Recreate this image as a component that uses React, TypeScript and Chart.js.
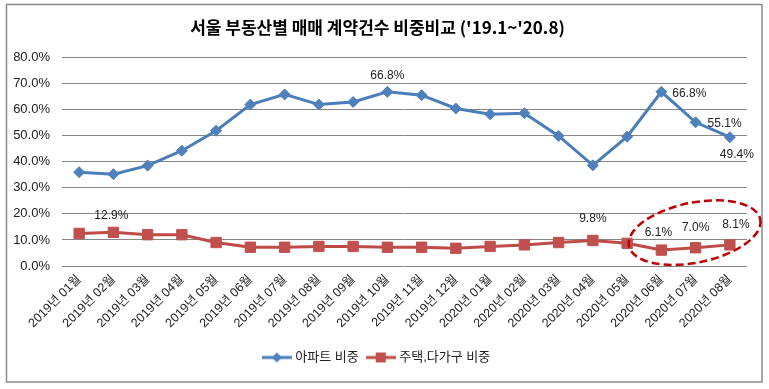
import React, { useEffect, useRef } from "react";
import { Chart, registerables } from "chart.js";

Chart.register(...registerables);

const titleText = "서울 부동산별 매매 계약건수 비중비교 ('19.1~'20.8)";
const categories = [
  "2019년 01월", "2019년 02월", "2019년 03월", "2019년 04월", "2019년 05월",
  "2019년 06월", "2019년 07월", "2019년 08월", "2019년 09월", "2019년 10월",
  "2019년 11월", "2019년 12월", "2020년 01월", "2020년 02월", "2020년 03월",
  "2020년 04월", "2020년 05월", "2020년 06월", "2020년 07월", "2020년 08월",
];
const apartmentName = "아파트 비중";
const apartmentShare = [36.0, 35.2, 38.5, 44.2, 51.9, 61.9, 65.8, 61.9, 62.9, 66.8, 65.5, 60.4, 58.2, 58.6, 49.9, 38.6, 49.6, 66.8, 55.1, 49.4];
const houseName = "주택,다가구 비중";
const houseShare = [12.5, 12.9, 12.0, 12.0, 9.0, 7.2, 7.2, 7.5, 7.5, 7.2, 7.2, 6.8, 7.5, 8.1, 9.0, 9.8, 8.7, 6.1, 7.0, 8.1];
const yTicks = [0, 10, 20, 30, 40, 50, 60, 70, 80];

// labels shown on points: [datasetIndex, pointIndex, text]
const pointLabels: [number, number, string][] = [
  [0, 9, "66.8%"], [0, 17, "66.8%"], [0, 18, "55.1%"], [0, 19, "49.4%"],
  [1, 1, "12.9%"], [1, 15, "9.8%"], [1, 17, "6.1%"], [1, 18, "7.0%"], [1, 19, "8.1%"],
];
const labelOffsets: [number, number][] = [
  [0, -16], [28, 2], [29, 1], [7, 17],
  [-2, -17], [0, -22], [-3, -17], [0, -20], [6, -20],
];

const BLUE_LINE = "#4A7EBB";
const BLUE_MARK = "#4F81BD";
const RED_LINE = "#BE4B48";
const RED_MARK = "#C0504D";
const FONT = '"Liberation Sans", "Noto Sans CJK KR", sans-serif';

function legendIcon(kind: "diamond" | "square"): HTMLCanvasElement {
  const c = document.createElement("canvas");
  c.width = 30;
  c.height = 12;
  const ctx = c.getContext("2d")!;
  ctx.strokeStyle = kind === "diamond" ? BLUE_LINE : RED_LINE;
  ctx.lineWidth = 3;
  ctx.beginPath();
  ctx.moveTo(0, 6);
  ctx.lineTo(30, 6);
  ctx.stroke();
  ctx.fillStyle = kind === "diamond" ? BLUE_MARK : RED_MARK;
  ctx.beginPath();
  if (kind === "diamond") {
    ctx.moveTo(15, 1);
    ctx.lineTo(20, 6);
    ctx.lineTo(15, 11);
    ctx.lineTo(10, 6);
    ctx.closePath();
  } else {
    ctx.rect(10, 1, 10, 10);
  }
  ctx.fill();
  return c;
}

const framePlugin = {
  id: "frame",
  beforeDraw(chart: any) {
    const ctx = chart.ctx;
    ctx.save();
    ctx.fillStyle = "#ffffff";
    ctx.fillRect(0, 0, chart.width, chart.height);
    ctx.strokeStyle = "#8a8a8a";
    ctx.lineWidth = 1.5;
    ctx.strokeRect(6.5, 4.5, 755.5, 377.5);
    ctx.restore();
  },
};

const labelPlugin = {
  id: "pointLabels",
  afterDatasetsDraw(chart: any) {
    const ctx = chart.ctx;
    ctx.save();
    ctx.font = `12px ${FONT}`;
    ctx.fillStyle = "#222";
    ctx.textAlign = "center";
    ctx.textBaseline = "middle";
    pointLabels.forEach(([ds, idx, text], i) => {
      const el = chart.getDatasetMeta(ds).data[idx];
      const [dx, dy] = labelOffsets[i];
      ctx.fillText(text, el.x + dx, el.y + dy);
    });
    // dashed ellipse highlighting recent months
    const xs = chart.scales.x;
    const ys = chart.scales.y;
    const cx = xs.getPixelForValue(18) - 1;
    const cy = ys.getPixelForValue(12.8);
    ctx.strokeStyle = "#C00000";
    ctx.lineWidth = 2.5;
    ctx.setLineDash([8, 4]);
    ctx.beginPath();
    ctx.ellipse(cx, cy, 67, 30, -0.2, 0, Math.PI * 2);
    ctx.stroke();
    ctx.restore();
  },
};

export default function App() {
  const ref = useRef<HTMLCanvasElement>(null);
  useEffect(() => {
    const icons = [legendIcon("diamond"), legendIcon("square")];
    const chart = new Chart(ref.current!, {
      type: "line",
      data: {
        labels: categories,
        datasets: [
          {
            label: apartmentName,
            data: apartmentShare,
            borderColor: BLUE_LINE,
            backgroundColor: BLUE_MARK,
            borderWidth: 3,
            pointStyle: "rectRot",
            pointRadius: 5.5,
            pointBorderWidth: 1,
            pointBorderColor: BLUE_MARK,
            pointBackgroundColor: BLUE_MARK,
            tension: 0,
          },
          {
            label: houseName,
            data: houseShare,
            borderColor: RED_LINE,
            backgroundColor: RED_MARK,
            borderWidth: 3,
            pointStyle: "rect",
            pointRadius: 7.3,
            pointBorderWidth: 1,
            pointBorderColor: RED_MARK,
            pointBackgroundColor: RED_MARK,
            tension: 0,
          },
        ],
      },
      options: {
        responsive: false,
        animation: false,
        layout: { padding: { left: 8, right: 22, top: 5, bottom: 15 } },
        plugins: {
          title: {
            display: true,
            text: titleText,
            color: "#000",
            font: { family: '"Noto Sans CJK KR", sans-serif', size: 17, weight: "bold" },
            padding: { top: 12, bottom: 20 },
          },
          legend: {
            position: "bottom",
            labels: {
              usePointStyle: true,
              pointStyleWidth: 24,
              padding: 10,
              color: "#222",
              font: { family: FONT, size: 13 },
              generateLabels: (chart: any) =>
                chart.data.datasets.map((ds: any, i: number) => ({
                  text: ds.label,
                  pointStyle: icons[i],
                  fillStyle: ds.borderColor,
                  strokeStyle: ds.borderColor,
                  lineWidth: 0,
                  hidden: false,
                  datasetIndex: i,
                  fontColor: "#222",
                })),
            },
          },
          tooltip: { enabled: false },
        },
        scales: {
          x: {
            offset: true,
            grid: { display: false, drawTicks: false },
            border: { display: false },
            ticks: {
              autoSkip: false,
              maxRotation: 45,
              minRotation: 45,
              padding: 6,
              color: "#222",
              font: { family: FONT, size: 12.5 },
            },
            afterFit: (s: any) => {
              s.height = 75;
            },
          },
          y: {
            min: 0,
            max: 80,
            afterBuildTicks: (s: any) => {
              s.ticks = yTicks.map((v) => ({ value: v }));
            },
            grid: { color: "#868686", lineWidth: 1, drawTicks: false },
            border: { display: false },
            ticks: {
              padding: 12,
              color: "#222",
              font: { family: FONT, size: 13 },
              callback: (v: any) => Number(v).toFixed(1) + "%",
            },
            afterFit: (s: any) => {
              s.width = 54;
            },
          },
        },
      },
      plugins: [framePlugin, labelPlugin],
    });
    return () => chart.destroy();
  }, []);
  return (
    <div style={{ position: "absolute", left: 0, top: 0, width: 769, height: 389 }}>
      <canvas ref={ref} width={769} height={389} />
    </div>
  );
}
